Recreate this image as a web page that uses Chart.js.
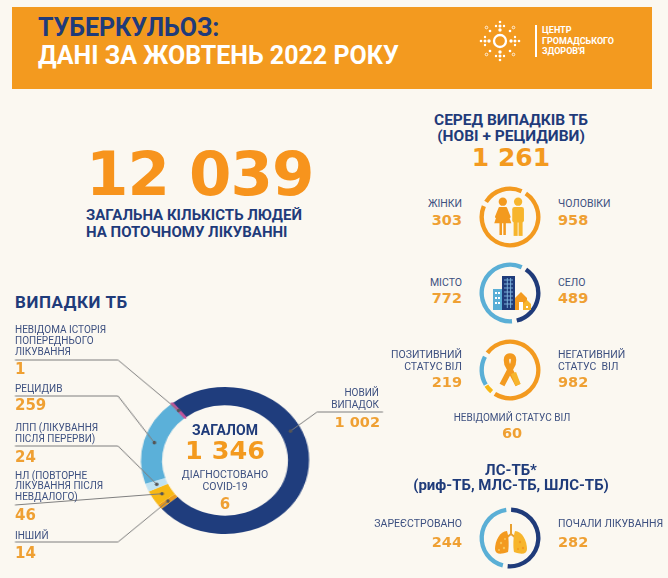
<!DOCTYPE html>
<html><head><meta charset="utf-8">
<script src="https://cdn.jsdelivr.net/npm/chart.js@4.4.0/dist/chart.umd.min.js"></script>
<style>
html,body{margin:0;padding:0;}
body{width:668px;height:578px;background:#fbf8f1;position:relative;overflow:hidden;font-family:Roboto,'DejaVu Sans',sans-serif;}
.a{position:absolute;white-space:pre;}
.navy{color:#1f3b7a;font-weight:700;}
.lbl{font-size:10px;line-height:11px;color:#3d5080;}
.rl{font-size:10.5px;line-height:12px;color:#3d5080;}
.num{font-family:'DejaVu Sans',sans-serif;font-weight:700;color:#efa033;font-size:14.5px;line-height:18px;}
canvas{position:absolute;}
</style></head><body>
<div class="a" style="left:12px;top:7px;width:640px;height:82px;background:#f39a1f"></div>
<div class="a navy" style="left:38px;top:14px;font-size:25px;line-height:28px;">ТУБЕРКУЛЬОЗ:</div>
<div class="a" style="left:38px;top:42px;font-size:25px;line-height:28px;color:#fff;font-weight:700;">ДАНІ ЗА ЖОВТЕНЬ 2022 РОКУ</div>
<svg class="a" style="left:475px;top:16px" width="50" height="50" viewBox="0 0 50 50" id="logo"></svg>
<div class="a" style="left:535px;top:25px;width:1.5px;height:32px;background:#fff"></div>
<div class="a" style="left:542px;top:25px;font-size:9px;line-height:10.5px;color:#fff;font-weight:700;">ЦЕНТР
ГРОМАДСЬКОГО
ЗДОРОВ'Я</div>

<div class="a" id="bigTotal" style="left:86px;top:139px;font-family:'DejaVu Sans';font-weight:700;font-size:61px;line-height:70px;letter-spacing:-1px;color:#f7941d;"></div>
<div class="a navy" style="left:86px;top:207px;font-size:15px;line-height:17px;">ЗАГАЛЬНА КІЛЬКІСТЬ ЛЮДЕЙ
НА ПОТОЧНОМУ ЛІКУВАННІ</div>

<div class="a navy" style="left:15px;top:292px;font-size:17px;line-height:20px;letter-spacing:0.6px;">ВИПАДКИ ТБ</div>

<canvas id="main" width="400" height="298" style="left:0;top:280px;transform:scaleX(1.143);transform-origin:225px 50%;"></canvas>

<div id="leftLabels"></div>

<div class="a navy" style="left:125px;top:421px;width:200px;text-align:center;font-size:14px;line-height:18px;">ЗАГАЛОМ</div>
<div class="a" id="caseTotal" style="left:125px;top:435px;width:200px;text-align:center;font-family:'DejaVu Sans';font-weight:700;font-size:25.5px;line-height:30px;color:#f39a1f;"></div>
<div class="a" style="left:125px;top:469px;width:200px;text-align:center;font-size:10.5px;line-height:11.5px;color:#3d5080;">ДІАГНОСТОВАНО
COVID-19</div>
<div class="a num" id="covid" style="left:125px;top:495px;width:200px;text-align:center;font-size:15px;"></div>

<div class="a navy" style="left:411px;top:112px;width:200px;text-align:center;font-size:15.5px;line-height:16px;">СЕРЕД ВИПАДКІВ ТБ
(НОВІ + РЕЦИДИВИ)</div>
<div class="a" id="nrTotal" style="left:411px;top:143px;width:200px;text-align:center;font-family:'DejaVu Sans';font-weight:700;font-size:25px;line-height:30px;color:#f39a1f;"></div>

<div class="a navy" style="left:411px;top:462.5px;width:200px;text-align:center;font-size:15px;line-height:15px;">ЛС-ТБ*
(риф-ТБ, МЛС-ТБ, ШЛС-ТБ)</div>

<div id="rightLabels"></div>

<canvas id="rGender" width="64" height="64" style="left:478px;top:185px"></canvas>
<canvas id="rCity" width="64" height="64" style="left:478px;top:261px"></canvas>
<canvas id="rHiv" width="64" height="64" style="left:478px;top:338px"></canvas>
<canvas id="rLung" width="64" height="64" style="left:478px;top:506px"></canvas>

<svg class="a" style="left:492px;top:196px" width="36" height="42" viewBox="0 0 40 46">
  <circle cx="12" cy="6" r="4.6" fill="#f39a1f"/>
  <path d="M8.5 12 h7 l6 18 h-19 z" fill="#f39a1f"/>
  <path d="M8.5 13 l-4 10" stroke="#f39a1f" stroke-width="2.4" stroke-linecap="round"/>
  <path d="M15.5 13 l4 10" stroke="#f39a1f" stroke-width="2.4" stroke-linecap="round"/>
  <rect x="8.3" y="29" width="2.8" height="14" fill="#f39a1f"/>
  <rect x="12.6" y="29" width="2.8" height="14" fill="#f39a1f"/>
  <circle cx="29" cy="6" r="4.6" fill="#f7b52c"/>
  <rect x="22.5" y="12" width="13" height="17" rx="2.5" fill="#f7b52c"/>
  <rect x="24" y="27" width="4.5" height="17" fill="#f7b52c"/>
  <rect x="29.5" y="27" width="4.5" height="17" fill="#f7b52c"/>
</svg>

<svg class="a" style="left:490px;top:274px" width="42" height="36" viewBox="0 0 42 36">
  <rect x="3" y="15" width="9" height="21" fill="#5aafd6"/>
  <rect x="5" y="18" width="2" height="2" fill="#fff"/><rect x="8" y="18" width="2" height="2" fill="#fff"/>
  <rect x="5" y="23" width="2" height="2" fill="#fff"/><rect x="8" y="23" width="2" height="2" fill="#fff"/>
  <rect x="5" y="28" width="2" height="2" fill="#fff"/><rect x="8" y="28" width="2" height="2" fill="#fff"/>
  <rect x="12" y="2" width="13" height="34" fill="#1f3b7a"/>
  <path d="M14 6h9M14 10h9M14 14h9M14 18h9M14 22h9M14 26h9M14 30h9M17.3 4v30M20.6 4v30" stroke="#7fb7e0" stroke-width="0.9"/>
  <path d="M25 24 l6 -6 6 6 v12 h-12z" fill="#f39a1f"/>
  <rect x="29" y="28" width="4" height="8" fill="#fff"/>
  <path d="M33 30 l4 -4 4 4 v6 h-8z" fill="#f7b52c"/>
  <rect x="36" y="32" width="2" height="2" fill="#fff"/>
</svg>

<svg class="a" style="left:497px;top:353px" width="28" height="34" viewBox="0 0 28 34">
  <path d="M5 32 L16 11 Q18 3 13 3 Q8 3 10 11 L21 32" fill="none" stroke="#f39a1f" stroke-width="5.5" stroke-linejoin="round"/>
  <path d="M16.5 20 L21 32" stroke="#f7b52c" stroke-width="5.5"/>
</svg>

<svg class="a" style="left:493px;top:523px" width="36" height="32" viewBox="0 0 36 32">
  <path d="M18 1 V11 M18 11 L13 15 M18 11 L23 15" stroke="#e8a030" stroke-width="2" fill="none"/>
  <path d="M14 8 C7 8 2 18 2 26 C2 31 7 32 15 29 C16 24 16 14 14 8z" fill="#f39a1f"/>
  <path d="M22 8 C29 8 34 18 34 26 C34 31 29 32 21 29 C20 24 20 14 22 8z" fill="#f7b52c"/>
  <circle cx="8" cy="20" r="1.2" fill="#f7c45a"/><circle cx="11" cy="25" r="1.2" fill="#f7c45a"/><circle cx="6" cy="27" r="1" fill="#f7c45a"/><circle cx="12" cy="16" r="1" fill="#f7c45a"/>
  <circle cx="27" cy="19" r="1.2" fill="#f39a1f"/><circle cx="30" cy="25" r="1.2" fill="#f39a1f"/><circle cx="25" cy="26" r="1" fill="#f39a1f"/>
</svg>

<script>
// ---------- DATA ----------
const totalOnTreatment = 12039;
const caseCategories = ['НЕВІДОМА ІСТОРІЯ\nПОПЕРЕДНЬОГО\nЛІКУВАННЯ', 'РЕЦИДИВ', 'ЛПП (ЛІКУВАННЯ\nПІСЛЯ ПЕРЕРВИ)', 'НЛ (ПОВТОРНЕ\nЛІКУВАННЯ ПІСЛЯ\nНЕВДАЛОГО)', 'ІНШИЙ', 'НОВИЙ\nВИПАДОК'];
const caseValues = [1, 259, 24, 46, 14, 1002];
const covidDiagnosed = 6;
const newPlusRelapse = 1261;
const genderCategories = ['ЖІНКИ', 'ЧОЛОВІКИ'];
const genderValues = [303, 958];
const settlementCategories = ['МІСТО', 'СЕЛО'];
const settlementValues = [772, 489];
const hivCategories = ['ПОЗИТИВНИЙ\nСТАТУС ВІЛ', 'НЕГАТИВНИЙ\nСТАТУС  ВІЛ', 'НЕВІДОМИЙ СТАТУС ВІЛ'];
const hivValues = [219, 982, 60];
const drtbCategories = ['ЗАРЕЄСТРОВАНО', 'ПОЧАЛИ ЛІКУВАННЯ'];
const drtbValues = [244, 282];

// ---------- helpers ----------
const fmt = n => String(n).replace(/\B(?=(\d{3})+(?!\d))/g, ' ');
function addText(parent, cls, style, text){
  const d = document.createElement('div');
  d.className = 'a ' + cls; d.setAttribute('style', style); d.textContent = text;
  parent.appendChild(d); return d;
}
document.getElementById('bigTotal').textContent = fmt(totalOnTreatment);
document.getElementById('caseTotal').textContent = fmt(caseValues.reduce((a,b)=>a+b,0));
document.getElementById('covid').textContent = fmt(covidDiagnosed);
document.getElementById('nrTotal').textContent = fmt(newPlusRelapse);

// logo
(function(){
  const s = document.getElementById('logo'); let h = '<circle cx="25" cy="25" r="6" fill="none" stroke="#fff" stroke-width="2.3"/>';
  const dirs = [[0,-1],[0,1],[-1,0],[1,0]];
  dirs.forEach(([dx,dy])=>{[11,15,19].forEach((d,k)=>{h += `<circle cx="${25+dx*d}" cy="${25+dy*d}" r="${1.7-k*0.2}" fill="#fff"/>`;});
    [[-4,15],[4,15]].forEach(([o,d])=>{ const x = 25+dx*d+(dy?o:0), y = 25+dy*d+(dx?o:0); h += `<circle cx="${x}" cy="${y}" r="1.2" fill="#fff"/>`;});});
  [[-1,-1],[1,-1],[-1,1],[1,1]].forEach(([dx,dy])=>{h += `<circle cx="${25+dx*10}" cy="${25+dy*10}" r="1.3" fill="#fff"/><circle cx="${25+dx*13.5}" cy="${25+dy*13.5}" r="1.3" fill="none" stroke="#fff" stroke-width="0.8"/>`;});
  s.innerHTML = h;
})();

// left labels (case types)
const L = document.getElementById('leftLabels');
const leftLblTop = [323.5, 382.5, 421.5, 470.5, 529.5];
const leftNumCenter = [369, 405, 457, 515, 553];
for (let i = 0; i < 5; i++) {
  addText(L, 'lbl', `left:15px;top:${leftLblTop[i]}px;` + (i===3?'line-height:10.6px;':''), caseCategories[i]);
  addText(L, 'num', `left:15px;top:${leftNumCenter[i]-9}px;font-size:15px;`, fmt(caseValues[i]));
}
addText(L, 'lbl', 'right:289px;top:387px;line-height:12px;text-align:right;', caseCategories[5]);
addText(L, 'num', 'right:288px;top:413px;', fmt(caseValues[5]));

// right labels
const R = document.getElementById('rightLabels');
function pair(cats, vals, lblCenterL, lblCenterR, numCenter){
  addText(R, 'rl', `right:206px;top:${lblCenterL}px;text-align:right;`, cats[0]);
  addText(R, 'num', `right:206px;top:${numCenter-9}px;`, fmt(vals[0]));
  addText(R, 'rl', `left:558px;top:${lblCenterR}px;`, cats[1]);
  addText(R, 'num', `left:558px;top:${numCenter-9}px;`, fmt(vals[1]));
}
pair(genderCategories, genderValues, 198, 198, 220);
pair(settlementCategories, settlementValues, 277, 277, 298);
pair(hivCategories, hivValues, 349, 349, 382);
pair(drtbCategories, drtbValues, 518, 518, 542);
addText(R, 'rl', 'left:412px;width:200px;text-align:center;top:412px;font-size:10px;', hivCategories[2]);
addText(R, 'num', 'left:412px;width:200px;text-align:center;top:424px;', fmt(hivValues[2]));

// ---------- main doughnut ----------
const ringOrder = caseValues.map((v,i)=>i).reverse();           // clockwise: new, other, НЛ, ЛПП, relapse, unknown
const caseColors = ['#c2549b', '#5bb0d9', '#bfe2f2', '#f7b815', '#e99a1c', '#1f3d7d'];
const SX = 1.143, CX = 225, TOP = 280;
const leaderPaths = [
  [[15,360],[118,360]],
  [[15,396],[118,396]],
  [[15,446],[118,446]],
  [[15,505]],
  [[15,542],[118,542]],
  [[383,412],[317,412]]
];
const leaderPos = [0.5, 0.5, 0.5, 0.5, 0.5, 0.38];
const leaderPlugin = {
  id: 'leaders',
  afterDatasetsDraw(chart){
    const ctx = chart.ctx, meta = chart.getDatasetMeta(0);
    ctx.save(); ctx.strokeStyle = '#7f7f7f'; ctx.lineWidth = 1; ctx.fillStyle = '#555';
    meta.data.forEach((arc, k) => {
      const i = ringOrder[k];
      const p = arc.getProps(['x','y','startAngle','endAngle','innerRadius','outerRadius'], true);
      const a = p.startAngle + (p.endAngle - p.startAngle) * leaderPos[i];
      const r = (p.innerRadius + p.outerRadius) / 2;
      const px = p.x + r*Math.cos(a), py = p.y + r*Math.sin(a);
      ctx.beginPath();
      leaderPaths[i].forEach((q, j) => {
        const x = CX + (q[0] - CX) / SX, y = q[1] - TOP;
        j ? ctx.lineTo(x, y) : ctx.moveTo(x, y);
      });
      ctx.lineTo(px, py); ctx.stroke();
      ctx.beginPath(); ctx.ellipse(px, py, 1.8/SX, 1.8, 0, 0, Math.PI*2); ctx.fill();
    });
    ctx.restore();
  }
};
new Chart(document.getElementById('main'), {
  type: 'doughnut',
  data: {
    labels: ringOrder.map(i => caseCategories[i]),
    datasets: [{
      data: ringOrder.map(i => caseValues[i]),
      backgroundColor: ringOrder.map(i => caseColors[i]),
      borderColor: ringOrder.map(i => caseColors[i]),
      borderWidth: ringOrder.map(i => caseValues[i] < 5 ? 2.5 : 0),
      hoverOffset: 0
    }]
  },
  options: {
    responsive: false, animation: false, events: [],
    rotation: -39, radius: 73.5, cutout: '75%',
    layout: { padding: { left: 151.5, right: 101.5, top: 107, bottom: 44 } },
    plugins: { legend: { display: false }, tooltip: { enabled: false } }
  },
  plugins: [leaderPlugin]
});

// ---------- small rings ----------
function ring(id, values, colors, rotation){
  new Chart(document.getElementById(id), {
    type: 'doughnut',
    data: { datasets: [{ data: values, backgroundColor: colors, borderWidth: 0, spacing: 3, hoverOffset: 0 }] },
    options: { responsive: false, animation: false, events: [], rotation, radius: 29, cutout: '85%',
      plugins: { legend: { display: false }, tooltip: { enabled: false } } }
  });
}
ring('rGender', genderValues, ['#f39a1f', '#f39a1f'], -60);
ring('rCity', settlementValues, ['#5aafd6', '#1f3b7a'], 170);
ring('rHiv', hivValues, ['#5aafd6', '#f39a1f', '#f7b815'], 237);
ring('rLung', drtbValues, ['#5aafd6', '#1f3b7a'], 190);
</script>
</body></html>
